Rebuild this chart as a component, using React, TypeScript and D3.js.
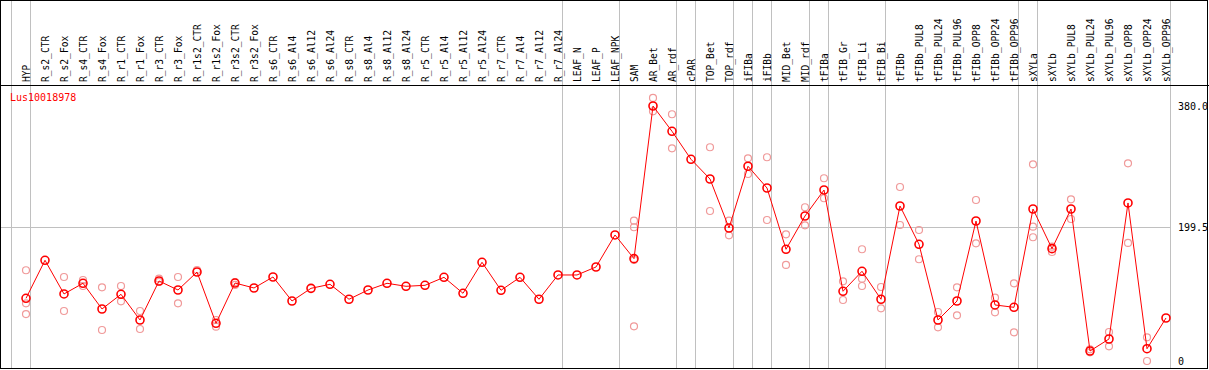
import React, { useEffect, useRef } from 'react'
import * as d3 from 'd3'

const samples = [
    'HYP', 'R_s2_CTR', 'R_s2_Fox', 'R_s4_CTR', 'R_s4_Fox', 'R_r1_CTR', 'R_r1_Fox', 'R_r3_CTR', 'R_r3_Fox',
    'R_r1s2_CTR', 'R_r1s2_Fox', 'R_r3s2_CTR', 'R_r3s2_Fox', 'R_s6_CTR', 'R_s6_Al4', 'R_s6_Al12', 'R_s6_Al24',
    'R_s8_CTR', 'R_s8_Al4', 'R_s8_Al12', 'R_s8_Al24', 'R_r5_CTR', 'R_r5_Al4', 'R_r5_Al12', 'R_r5_Al24',
    'R_r7_CTR', 'R_r7_Al4', 'R_r7_Al12', 'R_r7_Al24', 'LEAF_N', 'LEAF_P', 'LEAF_NPK', 'SAM', 'AR_Bet', 'AR_rdf',
    'cPAR', 'TOP_Bet', 'TOP_rdf', 'iFIBa', 'iFIBb', 'MID_Bet', 'MID_rdf', 'tFIBa', 'tFIB_Gr', 'tFIB_Li', 'tFIB_Bi',
    'tFIBb', 'tFIBb_PUL8', 'tFIBb_PUL24', 'tFIBb_PUL96', 'tFIBb_OPP8', 'tFIBb_OPP24', 'tFIBb_OPP96',
    'sXYLa', 'sXYLb', 'sXYLb_PUL8', 'sXYLb_PUL24', 'sXYLb_PUL96', 'sXYLb_OPP8', 'sXYLb_OPP24', 'sXYLb_OPP96'
]

// mean expression per sample
const means = [
    93.4, 150.1, 99.9, 115.8, 77.5, 99.4, 61.1, 119.2, 105.8,
    132.6, 56.2, 116.2, 108.8, 125.2, 89.4, 108.3, 114.3,
    92.0, 105.8, 115.8, 111.3, 112.8, 124.7, 100.9, 147.1,
    105.4, 124.7, 92.0, 128.2, 128.2, 140.1, 187.8, 152.5, 380.0, 342.3,
    300.6, 271.2, 198.2, 290.2, 257.8, 166.5, 216.1, 254.8, 103.9, 133.7, 92.0,
    231.0, 173.9, 61.1, 89.4, 208.6, 83.5, 80.0,
    226.5, 167.4, 226.5, 14.9, 32.8, 235.5, 18.3, 64.1
]

// replicate values (only the ones that show apart from the mean)
const replicates: [string, number[]][] = [
    ['HYP', [135.2, 86.0, 70.0]],
    ['R_s2_Fox', [125.2, 74.5]],
    ['R_s4_CTR', [120.7, 111.8]],
    ['R_s4_Fox', [109.8, 46.2]],
    ['R_r1_CTR', [111.8, 89.0]],
    ['R_r1_Fox', [74.5, 47.7]],
    ['R_r3_CTR', [122.7, 117.7]],
    ['R_r3_Fox', [125.2, 86.0]],
    ['R_r1s2_CTR', [135.6]],
    ['R_r1s2_Fox', [61.1, 51.1]],
    ['R_r3s2_CTR', [113.3, 117.7]],
    ['SAM', [209.1, 199.3, 150.5, 51.7]],
    ['AR_Bet', [392.0, 372.1]],
    ['AR_rdf', [367.7, 317.0]],
    ['TOP_Bet', [318.5, 223.5]],
    ['TOP_rdf', [209.1, 187.3]],
    ['iFIBa', [302.1, 278.7]],
    ['iFIBb', [303.6, 210.1]],
    ['MID_Bet', [188.8, 143.1]],
    ['MID_rdf', [229.1, 202.2]],
    ['tFIBa', [272.3, 242.5]],
    ['tFIB_Gr', [118.8, 90.9]],
    ['tFIB_Li', [166.5, 122.7, 111.8]],
    ['tFIB_Bi', [110.3, 78.5]],
    ['tFIBb', [259.3, 202.7]],
    ['tFIBb_PUL8', [195.2, 151.6]],
    ['tFIBb_PUL24', [73.0, 50.2]],
    ['tFIBb_PUL96', [109.8, 68.1]],
    ['tFIBb_OPP8', [239.9, 175.4]],
    ['tFIBb_OPP24', [94.3, 72.6]],
    ['tFIBb_OPP96', [115.8, 42.8]],
    ['sXYLa', [293.1, 200.1, 184.4]],
    ['sXYLb', [170.3, 162.4]],
    ['sXYLb_PUL8', [241.0, 211.6]],
    ['sXYLb_PUL24', [17.4, 13.0]],
    ['sXYLb_PUL96', [43.2, 21.9]],
    ['sXYLb_OPP8', [294.6, 175.9]],
    ['sXYLb_OPP24', [35.3, 0]],
]

// vertical separators drawn right after these samples ('' = before the first)
const groupEnds = ['', 'HYP', 'R_r7_Al24', 'LEAF_NPK', 'AR_rdf', 'cPAR', 'TOP_rdf', 'iFIBa', 'iFIBb',
    'MID_rdf', 'tFIBa', 'tFIB_Bi', 'tFIBb_OPP96', 'sXYLa', 'sXYLb_OPP96']

const axisTicks = [380.0, 199.5, 0]
const geneId = 'Lus10018978'

export default function App() {
    const ref = useRef<SVGSVGElement | null>(null)

    const width = 1209
    const height = 370
    const headerBottom = 85
    const plotBottom = 368
    const font = '"DejaVu Sans Mono", monospace'

    function draw() {
        const svg = d3.select(ref.current)
        svg.selectAll('*').remove()

        const x = d3.scalePoint<string>().domain(samples).range([26, 1166])
        const step = x.step()
        const y = d3.scaleLinear().domain([0, 380]).range([361, 106])

        // separators
        svg.append('g')
            .selectAll('line')
            .data(groupEnds)
            .enter().append('line')
            .attr('x1', (d) => (d === '' ? (x(samples[0]) as number) - step : (x(d) as number)) + 4.5)
            .attr('x2', (d) => (d === '' ? (x(samples[0]) as number) - step : (x(d) as number)) + 4.5)
            .attr('y1', 0)
            .attr('y2', plotBottom)
            .attr('stroke', '#c0c0c0')
            .attr('stroke-width', 1)

        // mid gridline
        svg.append('line')
            .attr('x1', 0)
            .attr('x2', (x(samples[samples.length - 1]) as number) + 4.5)
            .attr('y1', Math.round(y(199.5)) + 0.5)
            .attr('y2', Math.round(y(199.5)) + 0.5)
            .attr('stroke', '#c0c0c0')

        // frame
        svg.append('rect')
            .attr('x', 0.5).attr('y', 0.5)
            .attr('width', width - 2).attr('height', plotBottom)
            .attr('fill', 'none').attr('stroke', 'black')
        svg.append('line')
            .attr('x1', 0).attr('x2', width)
            .attr('y1', headerBottom + 0.5).attr('y2', headerBottom + 0.5)
            .attr('stroke', 'black')

        // sample labels
        svg.append('g')
            .selectAll('text')
            .data(samples)
            .enter().append('text')
            .attr('transform', (d) => 'translate(' + ((x(d) as number) + 3.5) + ',' + 82 + ') rotate(-90)')
            .attr('font-family', font)
            .attr('font-size', 9.6)
            .attr('fill', 'black')
            .text((d) => d)

        // axis labels
        svg.append('g')
            .selectAll('text')
            .data(axisTicks)
            .enter().append('text')
            .attr('x', 1178)
            .attr('y', (d) => Math.min(y(d) + 4, 365))
            .attr('font-family', font)
            .attr('font-size', 10)
            .attr('fill', 'black')
            .text((d) => (d === 0 ? '0' : d.toFixed(1)))

        // title
        svg.append('text')
            .attr('x', 10).attr('y', 101)
            .attr('font-family', font)
            .attr('font-size', 10)
            .attr('fill', 'red')
            .text(geneId)

        // replicates
        const reps = replicates.flatMap(([s, vals]) => vals.map((v) => ({ s, v })))
        svg.append('g')
            .selectAll('circle')
            .data(reps)
            .enter().append('circle')
            .attr('cx', (d) => x(d.s) as number)
            .attr('cy', (d) => y(d.v))
            .attr('r', 3.5)
            .attr('fill', 'none')
            .attr('stroke', '#f09a9a')
            .attr('stroke-width', 1.2)

        // mean line
        const line = d3.line<number>()
            .x((d, i) => x(samples[i]) as number)
            .y((d) => y(d))
        svg.append('path')
            .attr('d', line(means))
            .attr('fill', 'none')
            .attr('stroke', 'red')
            .attr('stroke-width', 1)

        svg.append('g')
            .selectAll('circle')
            .data(means)
            .enter().append('circle')
            .attr('cx', (d, i) => x(samples[i]) as number)
            .attr('cy', (d) => y(d))
            .attr('r', 4)
            .attr('fill', 'none')
            .attr('stroke', 'red')
            .attr('stroke-width', 1.6)
    }

    useEffect(() => {
        draw()
    }, [])

    return (
        <div style={{ position: 'absolute', left: 0, top: 0 }}>
            <svg ref={ref} width={width} height={height} style={{ display: 'block', background: 'white' }} />
        </div>
    )
}
